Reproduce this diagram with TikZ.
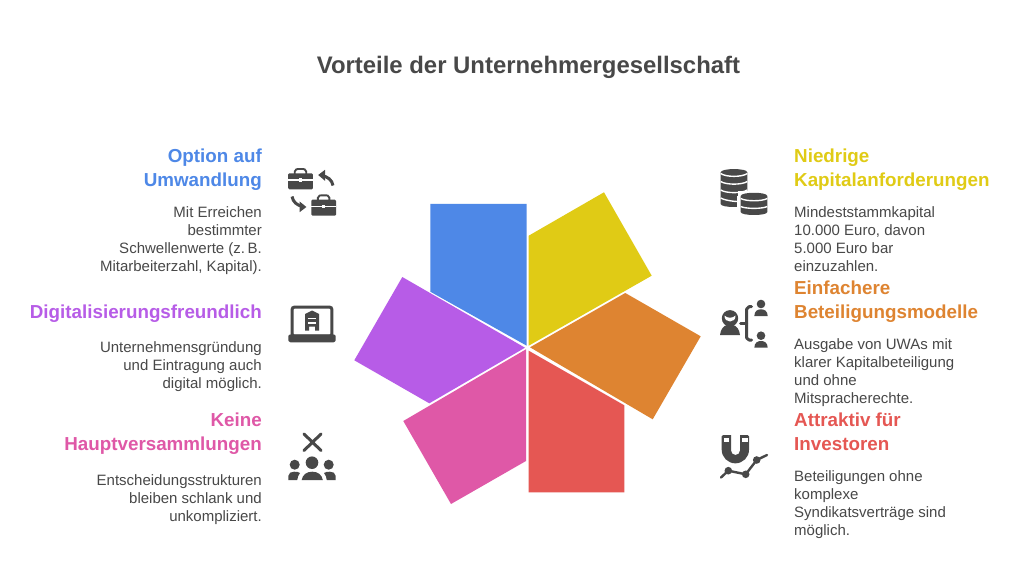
\documentclass[tikz,border=0pt]{standalone}
\usepackage{fontspec}
\setmainfont{Liberation Sans}
\definecolor{ink}{HTML}{484848}
\definecolor{cblue}{HTML}{4E88E7}
\definecolor{cyellow}{HTML}{E0CB15}
\definecolor{corange}{HTML}{DE8431}
\definecolor{cred}{HTML}{E55753}
\definecolor{cpink}{HTML}{DF58A7}
\definecolor{cpurple}{HTML}{B75CE7}
\tikzset{
  x=1pt,y=-1pt,
  petal/.style={fill=#1,draw=none},
  titletext/.style={font=\bfseries\fontsize{23.9}{28}\selectfont,text=ink,inner sep=0pt},
  headL/.style={font=\bfseries\fontsize{18.8}{24}\selectfont,text=#1,align=right,anchor=north east,inner sep=0pt},
  headR/.style={font=\bfseries\fontsize{18.8}{24}\selectfont,text=#1,align=left,anchor=north west,inner sep=0pt},
  bodyL/.style={font=\fontsize{15}{18}\selectfont,text=ink,align=right,anchor=north east,inner sep=0pt},
  bodyR/.style={font=\fontsize{15}{18}\selectfont,text=ink,align=left,anchor=north west,inner sep=0pt},
  ic/.style={fill=ink,draw=none},
  icl/.style={draw=ink,line width=3pt,line cap=round,line join=round},
  gap/.style={draw=white,line width=1.4pt},
}
\newcommand{\casebag}[2]{%
  \begin{scope}[shift={(#1,#2)}]
    \draw[ink,line width=1.9pt] (6.5,6) -- (6.5,3.5) .. controls (6.5,1) and (9,1) .. (12.3,1) .. controls (15.5,1) and (18,1) .. (18,3.5) -- (18,6);
    \fill[ic,rounded corners=1.2pt] (0,5.3) rectangle (24.6,21.4);
    \draw[white,line width=1.1pt] (0,12) -- (24.6,12);
    \fill[white] (10.6,10.4) rectangle (14,14);
  \end{scope}}
\newcommand{\coinshape}[3]{% x, top y, bottom y
  \fill[ic] (#1,#2+3.3) .. controls (#1,#2-1) and (#1+26.6,#2-1) .. (#1+26.6,#2+3.3) -- (#1+26.6,#3-3) .. controls (#1+26.6,#3+1) and (#1,#3+1) .. (#1,#3-3) -- cycle;}
\begin{document}
\begin{tikzpicture}
\useasboundingbox (0,0) rectangle (1020,588);
\fill[white] (0,0) rectangle (1020,588);
\node[titletext] (title) at (528.5,67.5) {Vorteile der Unternehmergesellschaft};
% petals
\fill[petal=cblue] (430.3,204) -- (526.7,204) -- (526.7,345.7) -- (430.3,291.7) -- cycle;
\fill[petal=cyellow] (528.7,235.7) -- (604,192.3) -- (651.7,275.7) -- (528.7,345.7) -- cycle;
\fill[petal=corange] (625.3,293) -- (700.7,336.3) -- (652.7,419.3) -- (530,347.3) -- cycle;
\fill[petal=cred] (528.7,350.7) -- (624.3,405.3) -- (624.3,492.3) -- (528.7,492.3) -- cycle;
\fill[petal=cpink] (526,349.3) -- (526,461) -- (451,504) -- (403.3,421) -- cycle;
\fill[petal=cpurple] (402.3,277) -- (525,347.7) -- (429.3,403.3) -- (354.3,360.3) -- cycle;
% left texts
\node[headL=cblue] (h1) at (262,149) {Option auf\\Umwandlung};
\node[bodyL] (b1) at (262,206) {Mit Erreichen\\bestimmter\\Schwellenwerte (z.\,B.\\Mitarbeiterzahl, Kapital).};
\node[headL=cpurple] (h2) at (262,305) {Digitalisierungsfreundlich};
\node[bodyL] (b2) at (262,341) {Unternehmensgründung\\und Eintragung auch\\digital möglich.};
\node[headL=cpink] (h3) at (262,413) {Keine\\Hauptversammlungen};
\node[bodyL] (b3) at (262,474) {Entscheidungsstrukturen\\bleiben schlank und\\unkompliziert.};
% right texts
\node[headR=cyellow] (h4) at (794,149) {Niedrige\\Kapitalanforderungen};
\node[bodyR] (b4) at (794,206) {Mindeststammkapital\\10.000 Euro, davon\\5.000 Euro bar\\einzuzahlen.};
\node[headR=corange] (h5) at (794,281) {Einfachere\\Beteiligungsmodelle};
\node[bodyR] (b5) at (794,338) {Ausgabe von UWAs mit\\klarer Kapitalbeteiligung\\und ohne\\Mitspracherechte.};
\node[headR=cred] (h6) at (794,413) {Attraktiv für\\Investoren};
\node[bodyR] (b6) at (794,470) {Beteiligungen ohne\\komplexe\\Syndikatsverträge sind\\möglich.};
% icon: cases with arrows
\casebag{288.2}{168}
\casebag{311.4}{194.3}
\draw[ink,line width=3pt] (333,185.5) .. controls (332,180) and (328,176.5) .. (321,175.5);
\fill[ic] (318.2,175) -- (325,169.8) -- (325,180.8) -- cycle;
\draw[ink,line width=3pt] (292,196.5) .. controls (293,202) and (297,205.5) .. (303,206.5);
\fill[ic] (306.4,207) -- (299.6,201.5) -- (299.6,212.2) -- cycle;
% icon: laptop
\draw[ink,line width=3pt,rounded corners=2pt] (292.2,307.2) rectangle (331.8,336);
\fill[ic,rounded corners=2.5pt] (288.3,334.3) -- (335.7,334.3) -- (335.7,338) .. controls (335.7,341) and (334,342.3) .. (331,342.3) -- (293,342.3) .. controls (290,342.3) and (288.3,341) .. (288.3,338) -- cycle;
\fill[ic] (305,330.7) -- (305,314) -- (312,310.5) -- (319,314) -- (319,330.7) -- (315,330.7) -- (315,326.5) -- (309,326.5) -- (309,330.7) -- cycle;
\draw[white,line width=1.2pt] (308,318.5) -- (316,318.5) (308,323) -- (316,323);
% icon: X and people
\draw[ink,line width=3pt,line cap=round] (304,434) -- (321,450.5) (321,434) -- (304,450.5);
\fill[ic] (312,462.7) circle (6.3);
\fill[ic] (294.7,464.7) circle (5);
\fill[ic] (328.7,464.7) circle (5);
\fill[ic] (301.7,480) .. controls (302.5,474.5) and (307,471.7) .. (312.2,471.7) .. controls (317.5,471.7) and (322,474.5) .. (322.8,480) -- cycle;
\fill[ic] (288.3,480) -- (288.3,476) .. controls (288.5,473) and (291,471.7) .. (294,471.7) .. controls (296.5,471.7) and (298.7,472) .. (300,473) .. controls (298.5,475) and (297.5,477) .. (297.2,480) -- cycle;
\fill[ic] (335.7,480) -- (335.7,476) .. controls (335.5,473) and (333,471.7) .. (330,471.7) .. controls (327.5,471.7) and (325.3,472) .. (324,473) .. controls (325.5,475) and (326.5,477) .. (326.8,480) -- cycle;
% icon: coins
\coinshape{720.7}{169}{207}
\fill[white] (737,196) rectangle (748,209);
\draw[gap] (720.7,173.5) .. controls (726,177.3) and (742,177.3) .. (747.3,173.5);
\draw[gap] (720.7,181.5) .. controls (726,185) and (742,185) .. (747.3,181.5);
\draw[gap] (720.7,190) .. controls (726,193.5) and (742,193.5) .. (747.3,190);
\draw[gap] (720.7,198) .. controls (726,201) and (737,201.5) .. (737,201.5);
\fill[white] (737.5,191.5) rectangle (770,218);
\coinshape{740.7}{192.7}{215}
\draw[gap] (740.7,198.5) .. controls (746,201.5) and (762,201.5) .. (767.3,198.5);
\draw[gap] (740.7,206.5) .. controls (746,209) and (762,209) .. (767.3,206.5);
% icon: person with bracket
\fill[ic] (730,318.3) circle (8.2);
\fill[white] (724.5,315.5) .. controls (727,318.5) and (733,318.5) .. (735.5,315.5) .. controls (736,323.5) and (724,323.5) .. (724.5,315.5) -- cycle;
\fill[ic] (720,335) .. controls (720.5,329) and (724,325.5) .. (727,325) .. controls (728.5,326.3) and (731.5,326.3) .. (733,325) .. controls (736,325.5) and (739.5,329) .. (740,335) -- cycle;
\draw[icl] (751.5,306.7) -- (749,306.7) -- (746.7,309) -- (746.7,338) -- (749,340) -- (751.5,340);
\draw[icl] (740.5,323.5) -- (746.7,323.5);
\fill[ic] (761,304) circle (4.3);
\fill[ic] (754.3,316) .. controls (754.5,311) and (757.5,309.3) .. (761,309.3) .. controls (764.5,309.3) and (767.5,311) .. (767.7,316) -- cycle;
\fill[ic] (761,335.7) circle (4.3);
\fill[ic] (754.3,347.7) .. controls (754.5,342.7) and (757.5,341) .. (761,341) .. controls (764.5,341) and (767.5,342.7) .. (767.7,347.7) -- cycle;
% icon: magnet
\fill[ic] (721.7,436.5) .. controls (721.7,435.5) and (722.2,435) .. (723.2,435) -- (731,435) -- (731,450.5) arc[start angle=180,end angle=360,x radius=4.5,y radius=-4.5] -- (740,435) -- (747.5,435) .. controls (748.5,435) and (749,435.5) .. (749,436.5) -- (749,449.7) arc[start angle=0,end angle=-180,x radius=13.65,y radius=-13.65] -- cycle;
\fill[white] (723.5,437.5) rectangle (729,441.7);
\fill[white] (742,437.5) rectangle (747.5,441.7);
\draw[ink,line width=2.4pt,line cap=round,line join=round] (721,477.5) -- (728.3,470.7) -- (745.7,474.3) -- (756.7,460) -- (767,455);
\fill[ic] (728.3,470.7) circle (3.8);
\fill[ic] (745.7,474.3) circle (3.8);
\fill[ic] (756.7,460) circle (3.8);
\end{tikzpicture}
\end{document}
